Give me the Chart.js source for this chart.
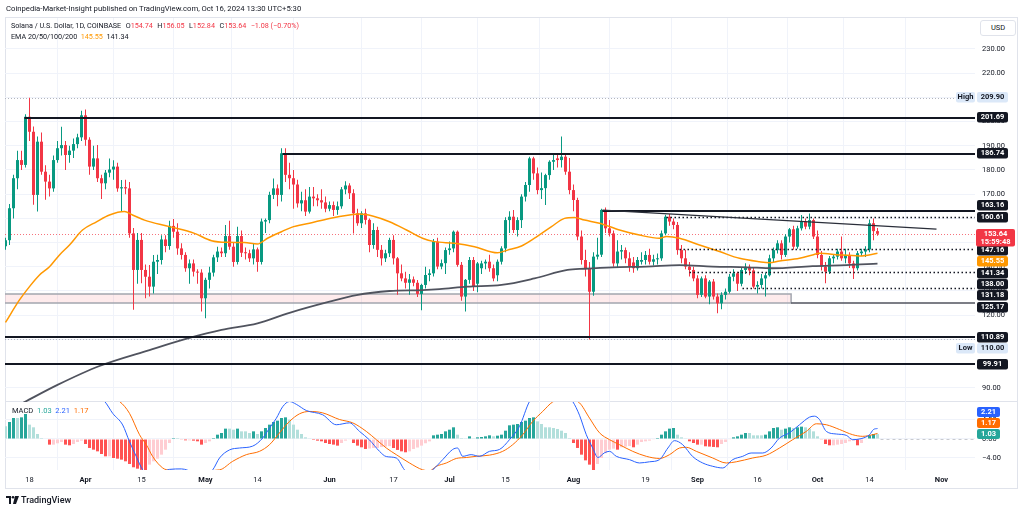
<!DOCTYPE html>
<html>
<head>
<meta charset="utf-8">
<script src="https://cdn.jsdelivr.net/npm/chart.js@4.4.1/dist/chart.umd.min.js"></script>
<style>
  body { margin: 0; background: #fff; }
  #wrap { position: relative; width: 1024px; height: 511px; overflow: hidden; font-family: Roboto, "Noto Sans", sans-serif; color: #131722; }
  canvas { position: absolute; left: 0; }
  .t { position: absolute; white-space: nowrap; font-size: 7.5px; line-height: 10px; }
  .r { color: #f23645; }
  .g { margin-left: 4.5px; }
</style>
</head>
<body>
<div id="wrap">
  <div style="position:absolute;left:5px;top:17px;width:1011px;height:470px;border:1px solid #e0e3eb;"></div>
  <div style="position:absolute;left:5px;top:401px;width:1012px;height:1px;background:#e0e3eb;"></div>
  <canvas id="price" width="1024" height="402" style="top:0"></canvas>
  <canvas id="macd" width="1024" height="86" style="top:402px"></canvas>

  <div class="t" style="left:6px;top:4px;font-size:7.7px;">Coinpedia-Market-Insight published on TradingView.com, Oct 16, 2024 13:30 UTC+5:30</div>
  <div class="t" style="left:11px;top:21px;font-size:7.2px;">Solana / U.S. Dollar, 1D, COINBASE<span class="g">O<span class="r">154.74</span></span><span class="g">H<span class="r">156.05</span></span><span class="g">L<span class="r">152.84</span></span><span class="g">C<span class="r">153.64</span></span><span class="g r">−1.08 (−0.70%)</span></div>
  <div class="t" style="left:11px;top:32px;font-size:7.2px;">EMA 20/50/100/200&nbsp; <span style="color:#ff9800">145.55</span>&nbsp; 141.34</div>
  <div class="t" style="left:980px;top:20px;width:34px;height:14px;line-height:14px;text-align:center;border:1px solid #e0e3eb;border-radius:3px;background:#fff;">USD</div>
  <div class="t" style="left:12px;top:406px;">MACD&nbsp; <span style="color:#26a69a">1.03</span>&nbsp; <span style="color:#2962ff">2.21</span>&nbsp; <span style="color:#ff6d00">1.17</span></div>

  <svg style="position:absolute;left:6px;top:496px" width="13" height="8" viewBox="0 0 13 8">
    <path d="M0 0h5v8H3V2H0z" fill="#131722"/><circle cx="7" cy="1.3" r="1.3" fill="#131722"/><path d="M9 0h4l-3 8H7z" fill="#131722"/>
  </svg>
  <div class="t" style="left:21px;top:495px;font-size:9px;font-weight:500;">TradingView</div>
</div>

<script>
// day 0 = 18 Mar 2024, first candle = 12 Mar 2024
const START = -6;

const opens = [
  148.5, 151, 164.2, 176.6, 184.1, 182.1, 202,
  195.8, 169.7, 191.7, 179.3, 175.2, 172.4, 184.1,
  189, 190.3, 186.2, 188, 190.7, 193.5, 202.6,
  192.5, 181.4, 184.8, 176.6, 174.5, 178.9, 180.2,
  181.4, 172.4, 172.9, 172.4, 153.8, 138.7, 151.1,
  138.7, 135.9, 131.8, 142.1, 142.8, 151.3, 148.6,
  156.9, 154.5, 147.6, 144.9, 139.4, 141.4, 138,
  137.6, 127, 134.6, 137.6, 143.9, 146.3, 145.6,
  152.7, 148.3, 142, 152.7, 145.8, 145.6, 143.5,
  147.2, 142, 158.7, 159.3, 169.7, 172.4, 169.7,
  186.9, 178, 176.6, 174, 166.2, 167.5, 162.8,
  169, 168.3, 167.5, 166.6, 164, 165.5, 163.5,
  165, 172, 173.6, 170.4, 162.1, 158, 162.1,
  159.4, 149, 155.2, 147, 143.5, 145.6, 151.1,
  143.5, 137.3, 135.2, 133.4, 134.8, 133.4, 128.8,
  132.5, 136.6, 137.3, 150.4, 140.1, 141.5, 146.9,
  147.6, 154.5, 140.8, 127.7, 134.6, 142.8, 133,
  139.4, 141.4, 142.1, 139.4, 136.5, 142.1, 147.6,
  159.3, 160.7, 155.2, 159.3, 169, 173.8, 184.8,
  178.6, 171.7, 172.5, 177.9, 183.4, 184.8, 184.1,
  185.5, 179.3, 171.7, 167.6, 152.5, 142.8, 139.4,
  129.7, 144.2, 145, 163.5, 155.9, 153.8, 141.4,
  146.3, 146.9, 143.5, 141.8, 139.4, 142.1, 142.8,
  144.9, 142.1, 143.1, 143.5, 153.8, 160.7, 158.7,
  157.3, 146.9, 143.5, 140.1, 138.7, 135.2, 128.4,
  135.2, 127.7, 133.9, 127.7, 124.9, 128.4, 129.7,
  135.9, 137.3, 133, 138.7, 140, 138.5, 131.8,
  132.5, 135.2, 136.5, 143.5, 146.9, 149.7, 144.9,
  152.5, 155.5, 148.3, 155.9, 158.7, 156.6, 159.3,
  152.5, 144.9, 140.1, 138, 143.5, 144.2, 146.3,
  143.5, 144.9, 141.4, 139.4, 145.6, 146.3, 147.2,
  158, 154.74
];
const highs = [
  152, 166, 178, 188, 188, 203, 209.9,
  198, 193.8, 195.5, 182, 178, 186, 192,
  197.9, 192, 190, 193, 195, 204.5, 205,
  193.5, 190, 190.3, 178, 180, 184.8, 184,
  183, 175.9, 176, 175, 156, 154, 154,
  141, 140.7, 144.9, 145, 153, 153, 159,
  159.8, 158, 149.7, 146, 143, 143, 139,
  139, 135.5, 140, 145, 148.3, 148, 157.3,
  159, 150, 156.6, 155, 148, 147, 149.7,
  148, 160, 160, 171, 176.5, 174, 189,
  189, 183, 180, 176, 171, 172, 173,
  173, 170, 172, 169, 167, 167, 167,
  173, 175.4, 174.5, 172, 164, 163, 164,
  160, 158, 156.5, 149, 147, 152, 153,
  144, 141, 138, 137, 136, 134.5, 133,
  140, 139, 151.5, 152, 143, 148, 150.5,
  155, 155, 142, 135, 144, 144, 142,
  142.5, 143, 145, 141, 143, 148.5, 160.5,
  163, 163.5, 160.5, 170, 175, 185.5, 185.5,
  181, 179, 178.5, 184, 187, 186.5, 193.8,
  187, 185, 174, 168.5, 155, 147, 142,
  146, 152, 164, 164.5, 159.3, 155, 151,
  149, 148, 146, 144, 144, 146, 146.5,
  147.5, 145, 145.5, 155, 161.5, 161.8, 160,
  158.5, 149, 147, 142, 140, 136.5, 136,
  136.5, 134.5, 135, 129, 129.5, 131, 137,
  139, 138, 139.5, 141.5, 141, 139.5, 134,
  137, 137.5, 145, 148, 151, 151, 153.5,
  156, 157, 157, 161.4, 160, 162, 160,
  155, 146.5, 142, 144.5, 145, 147.5, 152.5,
  147.5, 146, 142.5, 146.5, 147.5, 148.5, 159.5,
  160, 156.05
];
const lows = [
  147, 149, 160, 172, 180, 181, 192,
  165.6, 162.8, 178, 167.7, 169, 171, 183,
  186, 180, 183, 185, 189, 192, 190,
  178, 180, 175, 168, 172, 177, 176,
  171, 162.8, 170, 152, 122.2, 133, 133.2,
  127, 127.7, 129, 137, 141, 146, 147,
  152, 145, 143, 138, 133, 136, 133,
  121.5, 118.7, 131, 136, 142, 144, 144,
  147, 140, 141, 144, 143, 142, 141,
  138, 141, 154, 158, 168, 165, 167,
  175, 172, 164, 164.5, 163, 161, 162,
  165, 165, 164, 162.5, 163, 161, 161.5,
  164, 170, 168, 153.8, 157, 156, 157.5,
  146, 147.5, 144, 140.5, 142, 144, 141,
  128.5, 134, 131, 128.5, 132, 127.5, 122,
  131, 134, 136, 139, 139, 137, 145,
  146, 140, 126, 121.5, 133, 130, 129.5,
  137, 139, 138, 134, 134, 141, 146,
  154, 154, 152.5, 156, 167, 171, 176,
  170, 168, 165.5, 176, 180, 181, 181,
  178, 170, 163, 151, 141, 136, 110,
  128, 143, 144, 154, 152.5, 140, 139.5,
  143, 141.5, 138, 137.5, 138.5, 141, 141,
  141, 140.5, 141, 142.5, 153, 157, 155.5,
  145, 141.5, 139, 136, 134, 127, 127.5,
  127, 124.5, 126.5, 120.8, 122.5, 126.5, 129,
  134, 130, 132, 137, 136.5, 131, 129,
  131, 127.7, 136, 142, 145.5, 143, 144,
  150, 147, 147.5, 155, 155.5, 155.5, 151.5,
  143.5, 138.5, 133.2, 137, 141.5, 143, 142.5,
  141.5, 139.5, 135, 138.5, 144.5, 144, 146,
  151, 152.84
];
const closes = [
  151, 164.2, 176.6, 184.1, 182.1, 202, 195.8,
  169.7, 191.7, 179.3, 175.2, 172.4, 184.1, 189,
  190.3, 186.2, 188, 190.7, 193.5, 202.6, 192.5,
  181.4, 184.8, 176.6, 174.5, 178.9, 180.2, 181.4,
  172.4, 172.9, 172.4, 153.8, 138.7, 151.1, 138.7,
  135.9, 131.8, 142.1, 142.8, 151.3, 148.6, 156.9,
  154.5, 147.6, 144.9, 139.4, 141.4, 138, 137.6,
  127, 134.6, 137.6, 143.9, 146.3, 145.6, 152.7,
  148.3, 142, 152.7, 145.8, 145.6, 143.5, 147.2,
  142, 158.7, 159.3, 169.7, 172.4, 169.7, 186.9,
  178, 176.6, 174, 166.2, 167.5, 162.8, 169,
  168.3, 167.5, 166.6, 164, 165.5, 163.5, 165,
  172, 173.6, 170.4, 162.1, 158, 162.1, 159.4,
  149, 155.2, 147, 143.5, 145.6, 151.1, 143.5,
  137.3, 135.2, 133.4, 134.8, 133.4, 128.8, 132.5,
  136.6, 137.3, 150.4, 140.1, 141.5, 146.9, 147.6,
  154.5, 140.8, 127.7, 134.6, 142.8, 131.8, 141.4,
  141.4, 142.1, 139.4, 135.2, 142.1, 147.6, 159.3,
  160.7, 155.2, 159.3, 169, 173.8, 184.8, 178.6,
  171.7, 172.5, 177.9, 183.4, 184.1, 184.1, 185.5,
  179.3, 171.7, 167.6, 152.5, 142.8, 139.4, 129.7,
  144.2, 145, 163.5, 155.9, 153.8, 141.4, 146.3,
  146.9, 143.5, 140.1, 139.4, 142.8, 142.8, 144.9,
  142.1, 143.1, 143.5, 153.8, 160.7, 158.7, 157.3,
  146.9, 143.5, 140.1, 138.7, 135.2, 128.4, 135.2,
  127.7, 133.9, 127.7, 124.9, 128.4, 129.7, 135.9,
  137.3, 133, 138.7, 140, 138.5, 131.8, 132.5,
  135.2, 136.5, 143.5, 146.9, 149.7, 144.9, 152.5,
  155.5, 148.3, 155.9, 158.7, 156.6, 159.3, 152.5,
  144.9, 140.1, 138, 143.5, 144.2, 146.3, 143.5,
  144.9, 141.4, 139.4, 145.6, 146.3, 147.2, 158,
  154.74, 153.64
];

// MACD histogram, one value per candle
const macdHist = [
  2.67, 3.58, 4.42, 4.42, 4.56, 5.26, 3.02,
  2.46, 1.05, 0.21, 0.1, -1.19, -1.19, -0.91,
  -0.63, -1.19, -1.33, -1.05, -0.63, -0.35, -1.05,
  -1.89, -2.25, -2.6, -3.16, -3.65, -3.65, -4.0,
  -4.14, -4.35, -4.7, -5.26, -5.96, -6.25, -6.5,
  -6.7, -5.4, -4.7, -4.14, -3.3, -2.25, -0.84,
  0.21, 0.21, -0.14, -0.28, -0.28, -0.35, -0.49,
  -1.19, -0.84, -0.49, 0.21, 0.91, 1.26, 2.18,
  2.18, 1.96, 2.18, 1.61, 1.61, 1.26, 1.61,
  1.05, 1.61, 2.32, 3.02, 3.58, 3.86, 4.42,
  4.56, 4.07, 3.02, 1.96, 1.05, 0.35, 0.07,
  -0.21, -0.35, -0.49, -0.84, -1.05, -1.19, -1.4,
  -0.84, -0.35, -0.14, -0.84, -1.4, -1.75, -2.1,
  -2.0, -1.9, -1.9, -1.7, -1.6, -1.5, -1.9,
  -2.3, -2.6, -2.8, -2.6, -2.1, -1.8, -1.4,
  -0.9, -0.5, 0.77, 0.91, 1.05, 1.61, 1.96,
  2.46, 0.91, 0.21, 0.07, 0.56, 0.07, 0.35,
  0.42, 0.56, 0.77, 0.56, 0.7, 0.91, 1.75,
  2.88, 3.02, 3.16, 3.58, 3.86, 4.42, 4.56,
  3.72, 3.16, 2.46, 2.46, 2.32, 2.1, 1.75,
  1.26, 0.21, -0.84, -1.89, -3.3, -4.5, -5.4,
  -6.6, -5.26, -4.0, -3.0, -2.25, -2.04, -2.25,
  -1.75, -1.61, -1.47, -1.75, -1.19, -0.63, -0.49,
  -0.35, -0.07, 0.21, 0.91, 1.61, 2.18, 2.32,
  0.91, 0.35, 0.07, -0.49, -0.84, -1.19, -1.19,
  -1.54, -1.6, -1.68, -1.75, -1.05, -0.63, -0.14,
  0.35, 0.56, 0.91, 1.26, 1.26, 0.77, 0.77,
  0.77, 0.91, 1.61, 2.32, 2.46, 1.96, 2.18,
  2.46, 2.32, 2.46, 2.6, 2.46, 2.18, 1.61,
  0.56, -0.14, -1.05, -1.33, -1.33, -1.19, -1.05,
  -0.84, -0.49, -0.35, -1.33, -0.84, -0.14, 0.77,
  1.05, 1.03
];

// [day, value] readings of the MACD and signal lines
const macdLine = [
  [-6, 9.0], [0, 11.5], [8, 11], [14, 10], [18.75, 7.93], [20.8, 5.4], [23.3, 2.95], [25, -0.56],
  [26.7, -3.7], [28.3, -6.5], [31, -8.0], [35, -6.4], [38, -6.3], [41, -7.0], [44, -7.5], [45.8, -6.5],
  [47.5, -4.0], [50, -2.3], [52.5, -1.9], [55.8, -1.5], [58.3, 0.2], [60, 2.3], [61.7, 4.35], [63.3, 6.8],
  [65, 7.9], [66.7, 7.3], [69.2, 6.0], [73.3, 5.1], [76.7, 3.0], [80, 3.4], [82.5, 1.6], [85, -0.2],
  [87.5, -2.6], [89.2, -3.7], [91.7, -4.0], [93.75, -6.5], [96, -8], [99, -7.5], [100.8, -6.5], [103.3, -4.35],
  [105.8, -2.2], [107, -1.9], [108.3, -3.65], [110.4, -3.3], [112.5, -3.65], [115, -2.6], [117.5, -2.2], [120, -0.14],
  [122.5, 2.67], [125, 7.9], [128, 10.5], [132, 11], [135.8, 7.9], [137.5, 5.0], [139.2, 0.9], [140.8, -1.9],
  [142.1, -3.9], [143.75, -2.9], [145, -2.6], [146.7, -3.65], [150, -4.35], [152.5, -5.05], [155, -4.8], [157.5, -4.35],
  [159.6, -1.9], [161.25, -0.35], [163.3, -1.2], [165.8, -3.7], [168.3, -5.05], [170.8, -5.75], [173.3, -6.1], [175.8, -4.35],
  [178.3, -3.65], [180.4, -2.95], [183.3, -2.95], [185.4, -1.9], [187.5, 0.2], [190, 1.3], [192.5, 3.0], [195, 4.6],
  [196.25, 4.8], [197.5, 4.1], [199.2, 1.6], [201.7, 1.05], [204.2, 0.77], [205.8, -0.14], [207.9, 0.07], [210, 0.9],
  [211, 2.0], [212, 2.21]
];
const signalLine = [
  [-6, 8.5], [5, 10.5], [15, 10], [22.5, 7.9], [25, 5.4], [27.5, 0.9], [29.2, -1.2], [30.8, -3.7],
  [33.3, -6.1], [35, -6.6], [42.5, -6.7], [47.5, -6.5], [50.8, -4.7], [54.2, -3.3], [57.5, -2.6], [60, -1.2],
  [62.5, 1.3], [65, 3.7], [67.5, 5.3], [70, 5.8], [73.3, 5.5], [77.5, 4.1], [80.8, 3.4], [84.2, 1.6],
  [86.7, -0.14], [89.2, -1.9], [91.7, -3.3], [95, -5.05], [98.3, -6.5], [100, -6.7], [101.7, -5.75], [104.2, -5.05],
  [106.7, -4.1], [109.2, -3.9], [111.7, -3.65], [115, -3.4], [118.3, -2.6], [120.8, -1.2], [123.3, 0.9], [125.8, 3.7],
  [128.3, 5.8], [130.8, 7.8], [134, 8.5], [137.5, 7.6], [140, 4.4], [142.5, 1.3], [145, -0.14], [147.5, -1.2],
  [150.8, -2.6], [154.2, -3.65], [157.5, -4.1], [160, -3.3], [162.5, -1.9], [164.2, -1.75], [166.7, -2.6], [170.8, -4.0],
  [174.2, -5.05], [176.7, -4.8], [180.8, -4.0], [184.2, -3.4], [187.5, -1.9], [190.8, -0.14], [194.2, 1.6], [196.7, 3.2],
  [199.2, 3.0], [202.5, 2.0], [205.8, 0.9], [208.3, 0.56], [210.8, 0.9], [212, 1.17]
];

// [day, value] readings of the EMA 50 and EMA 200 lines
const ema50 = [
  [-6, 117], [-2.5, 126.3], [0, 131.8], [2.5, 136.6], [5, 140.0], [7.5, 144.9], [10, 149.0], [13.25, 155.2],
  [16.75, 158.6], [20, 161.4], [23.75, 162.8], [25.75, 161.4], [28.75, 159.3], [35, 156.6], [41.25, 153.8], [45.5, 150.8],
  [49.5, 150.1], [53.75, 150.0], [57, 149.4], [59.5, 151.8], [63, 154.5], [65.5, 156.3], [70, 158.0], [75, 160.0],
  [80, 161.4], [82.5, 161.8], [85.75, 161], [90, 158.6], [94.25, 155.2], [98.25, 151.8], [101.25, 150.4], [106.25, 149.7],
  [111.25, 148.3], [117, 145.8], [119.5, 146.9], [123, 148.6], [126.25, 151.8], [130.5, 156.6], [133.75, 160.0], [136.25, 160.4],
  [138.75, 159.3], [142.5, 158], [147.5, 155.2], [152.5, 153.1], [157.5, 151.8], [159.25, 152.5], [162.5, 151.8], [167.5, 149.0],
  [172.5, 146.3], [177.5, 143.5], [182.5, 142.1], [185, 141.7], [187.5, 142.4], [192.5, 143.5], [195.75, 144.9], [197.5, 145.6],
  [202.5, 144.9], [207.5, 144.5], [212, 145.55]
];
const ema200 = [
  [-6, 80], [-1.25, 84.1], [7, 91.2], [17.5, 99], [30, 105.6], [40, 110.6], [48, 113.9], [57, 116.6],
  [65, 121.0], [75, 125.6], [81.75, 128.3], [90, 130.0], [98.25, 130.4], [102.5, 130.8], [109.5, 131.8], [118, 132.5],
  [126.25, 135.2], [134.5, 138.7], [138.75, 139.2], [145.75, 139.8], [154.25, 140.1], [162.5, 140.7], [170.75, 140.1], [179.25, 139.8],
  [185.75, 139.4], [195.75, 140.3], [204.25, 140.7], [212, 141.34]
];

// time axis
const tickDays = [0, 14, 28, 44, 57, 75, 91, 105, 119, 136, 154, 167, 182, 197, 210, 228];
const tickLabels = ['18', 'Apr', '15', 'May', '14', 'Jun', '17', 'Jul', '15', 'Aug', '19', 'Sep', '16', 'Oct', '14', 'Nov'];
const priceTicks = [90, 100, 110, 120, 130, 140, 150, 160, 170, 180, 190, 200, 210, 220, 230];
const macdTicks = [-4, 0, 4];

// drawn levels: price and first day of each line
const solidLevels = [201.69, 186.74, 163.16, 110.89, 99.91];
const solidFrom = [-1.25, 63.25, 143.25, -7, -7];
const dottedLevels = [160.61, 147.16, 138.00, 131.18];
const dottedFrom = [159.25, 162.5, 165, 178.25];
const zoneBand = [125.17, 128.7];
const zoneEnd = 190.4;
const trendLine = [[143.25, 163.4], [226.75, 155.6]];
const highLow = [209.90, 110.00];
const lastPrice = 153.64;

const UP = '#089981', DOWN = '#f23645';
const FONT = 'Roboto, "Noto Sans", sans-serif';
const X_MIN = -6.125, X_MAX = 236.375;

const days = opens.map((_, i) => START + i);
const candleColors = closes.map((c, i) => c >= opens[i] ? UP : DOWN);
const histColors = macdHist.map((v, i) => {
  const prev = i > 0 ? macdHist[i - 1] : v;
  if (v >= 0) return v > prev ? '#26a69a' : '#b2dfdb';
  return v < prev ? '#ff5252' : '#ffcdd2';
});

function timeAxis(showLabels) {
  return {
    type: 'linear', min: X_MIN, max: X_MAX, offset: false,
    afterBuildTicks: s => { s.ticks = tickDays.map(v => ({ value: v })); },
    afterFit: s => { s.paddingLeft = 0; s.paddingRight = 0; s.height = showLabels ? 18 : 0; },
    grid: { color: '#f0f3fa', drawTicks: false },
    border: { display: false },
    ticks: {
      display: showLabels, padding: 6, autoSkip: false, maxRotation: 0, color: '#131722',
      font: ctx => ({ family: FONT, size: 7.5, weight: /^\d/.test(tickLabels[ctx.index] || '') ? 'normal' : 'bold' }),
      callback: (v, i) => tickLabels[i]
    }
  };
}

function valueAxis(min, max, ticks, fmt) {
  return {
    position: 'right', min, max,
    afterBuildTicks: s => { s.ticks = ticks.map(v => ({ value: v })); },
    afterFit: s => { s.width = 49; s.paddingTop = 0; s.paddingBottom = 0; },
    grid: { color: '#f0f3fa', drawTicks: false },
    border: { display: false },
    ticks: { padding: 7, color: '#131722', font: { family: FONT, size: 7.5 }, callback: fmt }
  };
}

const fmtNum = v => (v < 0 ? '−' : '') + Math.abs(v).toFixed(2);

// label tags on the value scale; the anchor stays put, the others move away from it
function placeTags(tags, anchor, gap, firstBelowGap) {
  anchor.y = anchor.y0;
  const above = tags.filter(t => t !== anchor && t.y0 <= anchor.y0).sort((p, q) => q.y0 - p.y0);
  const below = tags.filter(t => t !== anchor && t.y0 > anchor.y0).sort((p, q) => p.y0 - q.y0);
  let prev = anchor;
  above.forEach(t => { t.y = Math.min(t.y0, prev.y - gap); prev = t; });
  prev = anchor;
  below.forEach((t, k) => { t.y = Math.max(t.y0, prev.y + (k === 0 ? firstBelowGap : gap)); prev = t; });
}

function drawTag(ctx, x, top, w, h, bg, fg, lines, step) {
  ctx.fillStyle = bg;
  ctx.beginPath();
  ctx.roundRect(x, top, w, h, 2);
  ctx.fill();
  ctx.fillStyle = fg;
  ctx.font = 'bold 7.5px ' + FONT;
  ctx.textAlign = 'center';
  ctx.textBaseline = 'middle';
  lines.forEach((s, k) => ctx.fillText(s, x + w / 2, top + 5.5 + k * (step || 9)));
}

const pricePlugin = {
  id: 'priceDecor',
  beforeDatasetsDraw(chart) {
    const { ctx, chartArea: a, scales: { x, y } } = chart;
    ctx.save();
    ctx.beginPath(); ctx.rect(a.left, a.top, a.width, a.height); ctx.clip();
    ctx.lineWidth = 1;
    ctx.setLineDash([1, 2]);
    ctx.strokeStyle = '#b2b5be';
    highLow.forEach(v => {
      const py = Math.round(y.getPixelForValue(v)) + 0.5;
      ctx.beginPath(); ctx.moveTo(a.left, py); ctx.lineTo(a.right, py); ctx.stroke();
    });
    ctx.strokeStyle = 'rgba(242,54,69,0.7)';
    const lp = Math.round(y.getPixelForValue(lastPrice)) + 0.5;
    ctx.beginPath(); ctx.moveTo(a.left, lp); ctx.lineTo(a.right, lp); ctx.stroke();
    ctx.setLineDash([]);
    const zx1 = x.getPixelForValue(zoneEnd);
    const zy0 = Math.round(y.getPixelForValue(zoneBand[1]));
    const zy1 = Math.round(y.getPixelForValue(zoneBand[0]));
    ctx.fillStyle = 'rgba(242,54,69,0.1)';
    ctx.fillRect(a.left, zy0, zx1 - a.left, zy1 - zy0);
    ctx.strokeStyle = '#a3a6af';
    ctx.lineWidth = 1.5;
    ctx.strokeRect(a.left - 2, zy0, zx1 - a.left + 2, zy1 - zy0);
    ctx.restore();
  },
  afterDatasetsDraw(chart) {
    const { ctx, chartArea: a, scales: { x, y } } = chart;
    ctx.save();
    ctx.beginPath(); ctx.rect(a.left, a.top, a.width, a.height); ctx.clip();
    ctx.strokeStyle = '#131722';
    ctx.lineWidth = 2;
    solidLevels.forEach((v, i) => {
      const py = Math.round(y.getPixelForValue(v));
      ctx.beginPath(); ctx.moveTo(Math.max(a.left, x.getPixelForValue(solidFrom[i])), py); ctx.lineTo(a.right, py); ctx.stroke();
    });
    ctx.strokeStyle = '#50535e';
    ctx.lineWidth = 1.5;
    const zb = Math.round(y.getPixelForValue(zoneBand[0]));
    ctx.beginPath(); ctx.moveTo(x.getPixelForValue(zoneEnd), zb); ctx.lineTo(a.right, zb); ctx.stroke();
    ctx.strokeStyle = '#131722';
    ctx.lineWidth = 1.5;
    ctx.setLineDash([1.5, 2.5]);
    dottedLevels.forEach((v, i) => {
      const py = Math.round(y.getPixelForValue(v)) + 0.5;
      ctx.beginPath(); ctx.moveTo(x.getPixelForValue(dottedFrom[i]), py); ctx.lineTo(a.right, py); ctx.stroke();
    });
    ctx.setLineDash([]);
    ctx.strokeStyle = '#2a2e39';
    ctx.lineWidth = 1.3;
    ctx.beginPath();
    ctx.moveTo(x.getPixelForValue(trendLine[0][0]), y.getPixelForValue(trendLine[0][1]));
    ctx.lineTo(x.getPixelForValue(trendLine[1][0]), y.getPixelForValue(trendLine[1][1]));
    ctx.stroke();
    ctx.restore();
  },
  afterDraw(chart) {
    const { ctx, chartArea: a, scales: { y } } = chart;
    const x0 = a.right + 2;
    const tags = [
      { v: highLow[0], bg: '#dbe8f8', fg: '#131722', side: 'High' },
      { v: 201.69 }, { v: 186.74 }, { v: 163.16 }, { v: 160.61 },
      { v: lastPrice, bg: '#f23645', last: true },
      { v: 147.16 }, { v: 145.55, bg: '#ff9800' }, { v: 141.34 }, { v: 138.00 },
      { v: 131.18 }, { v: 125.17 }, { v: 110.89 },
      { v: highLow[1], bg: '#dbe8f8', fg: '#131722', side: 'Low' },
      { v: 99.91 }
    ];
    tags.forEach(t => { t.y0 = y.getPixelForValue(t.v); });
    const anchor = tags.find(t => t.last);
    placeTags(tags, anchor, 11.3, 16.5);
    ctx.save();
    tags.filter(t => !t.last).forEach(t => {
      const top = Math.round(t.y - 5.25);
      drawTag(ctx, x0, top, 31, 10.5, t.bg || '#131722', t.fg || '#ffffff', [t.v.toFixed(2)]);
      if (t.side) drawTag(ctx, x0 - 21, top, 19, 10.5, t.bg, t.fg, [t.side]);
    });
    drawTag(ctx, x0 - 1, Math.round(anchor.y - 5), 39, 17.5, '#f23645', '#ffffff', [lastPrice.toFixed(2), '15:59:48'], 8);
    ctx.restore();
  }
};

const macdPlugin = {
  id: 'macdDecor',
  beforeDatasetsDraw(chart) {
    const { ctx, chartArea: a, scales: { x, y } } = chart;
    ctx.save();
    ctx.strokeStyle = '#c8cad0';
    ctx.lineWidth = 1;
    ctx.setLineDash([3, 3]);
    const py = Math.round(y.getPixelForValue(0)) + 0.5;
    ctx.beginPath(); ctx.moveTo(x.getPixelForValue(days[days.length - 1]) + 3, py); ctx.lineTo(a.right, py); ctx.stroke();
    ctx.restore();
  },
  afterDraw(chart) {
    const { ctx, chartArea: a, scales: { y } } = chart;
    const tags = [
      { v: macdLine[macdLine.length - 1][1], bg: '#2962ff' },
      { v: signalLine[signalLine.length - 1][1], bg: '#ff6d00' },
      { v: macdHist[macdHist.length - 1], bg: '#26a69a' }
    ];
    tags.forEach(t => { t.y0 = y.getPixelForValue(t.v); });
    placeTags(tags, tags[2], 11.3, 11.3);
    ctx.save();
    tags.forEach(t => drawTag(ctx, a.right + 2, Math.round(t.y - 5), 23, 10, t.bg, '#ffffff', [t.v.toFixed(2)]));
    ctx.restore();
  }
};

new Chart(document.getElementById('price'), {
  type: 'bar',
  data: {
    datasets: [
      {
        label: 'wicks', order: 3, grouped: false, barThickness: 1, inflateAmount: 0,
        data: days.map((d, i) => ({ x: d, y: [lows[i], highs[i]] })),
        backgroundColor: candleColors
      },
      {
        label: 'bodies', order: 2, grouped: false, barThickness: 3, inflateAmount: 0, minBarLength: 1,
        data: days.map((d, i) => ({ x: d, y: [opens[i], closes[i]] })),
        backgroundColor: candleColors
      },
      {
        type: 'line', label: 'EMA 50', order: 1,
        data: ema50.map(([x, y]) => ({ x, y })),
        borderColor: '#ff9800', borderWidth: 1.5, pointRadius: 0, cubicInterpolationMode: 'monotone'
      },
      {
        type: 'line', label: 'EMA 200', order: 1,
        data: ema200.map(([x, y]) => ({ x, y })),
        borderColor: '#50535e', borderWidth: 1.8, pointRadius: 0, cubicInterpolationMode: 'monotone'
      }
    ]
  },
  options: {
    responsive: false, animation: false, devicePixelRatio: 1,
    layout: { padding: { left: 5, top: 18, right: 0, bottom: 0 } },
    plugins: { legend: { display: false }, tooltip: { enabled: false } },
    scales: {
      x: timeAxis(false),
      y: valueAxis(84.13, 242.81, priceTicks, v => v.toFixed(2))
    }
  },
  plugins: [pricePlugin]
});

new Chart(document.getElementById('macd'), {
  type: 'bar',
  data: {
    datasets: [
      {
        label: 'Histogram', order: 2, grouped: false, barThickness: 3, inflateAmount: 0,
        data: days.map((d, i) => ({ x: d, y: macdHist[i] })),
        backgroundColor: histColors
      },
      {
        type: 'line', label: 'MACD', order: 1,
        data: macdLine.map(([x, y]) => ({ x, y })),
        borderColor: '#2962ff', borderWidth: 1, pointRadius: 0, cubicInterpolationMode: 'monotone'
      },
      {
        type: 'line', label: 'Signal', order: 1,
        data: signalLine.map(([x, y]) => ({ x, y })),
        borderColor: '#ff6d00', borderWidth: 1, pointRadius: 0, cubicInterpolationMode: 'monotone'
      }
    ]
  },
  options: {
    responsive: false, animation: false, devicePixelRatio: 1,
    layout: { padding: { left: 5, top: 0, right: 0, bottom: 0 } },
    plugins: { legend: { display: false }, tooltip: { enabled: false } },
    scales: {
      x: timeAxis(true),
      y: valueAxis(-6.53, 7.79, macdTicks, fmtNum)
    }
  },
  plugins: [macdPlugin]
});
</script>
</body>
</html>
